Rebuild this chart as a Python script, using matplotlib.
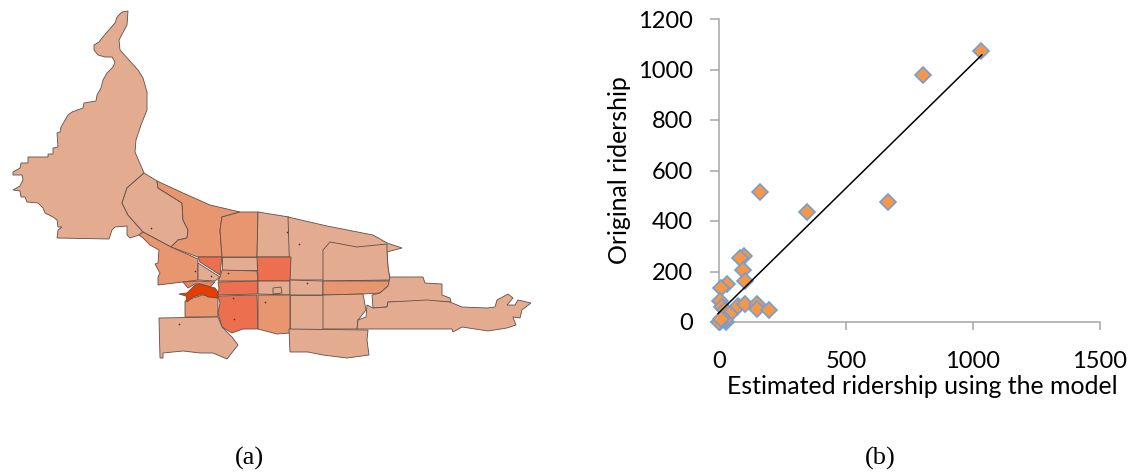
import matplotlib
matplotlib.use('Agg')
import matplotlib.pyplot as plt
from matplotlib.patches import Polygon

# scatter values
estimated = [160, 346, 97, 81, 93, 101, 33, 9, 4, 13, 22, 45, 75, 102, 151, 150, 197,
             29, 22, 3, 0, 9, 665, 803, 1031]
original = [513, 434, 263, 255, 207, 161, 152, 135, 83, 59, 46, 33, 62, 73, 70, 53, 48,
            0, 7, 0, 0, 13, 475, 978, 1073]
trend_x = [-4, 1035]
trend_y = [33, 1058]
xticks = [0, 500, 1000, 1500]
yticks = [0, 200, 400, 600, 800, 1000, 1200]

# district outlines for panel (a), in picture pixels
light = '#e3ab90'
mid = '#e8966f'
strong = '#ec7050'
deep = '#e83c00'

north_west = [(128, 11), (122, 12), (117, 17), (115, 23), (108, 31), (102, 38), (99, 42), (94, 45),
              (94, 50), (98, 55), (105, 57), (112, 57), (115, 62), (113, 67), (107, 73), (103, 80),
              (101, 88), (97, 95), (96, 101), (84, 103), (83, 108), (72, 112), (68, 115), (61, 127),
              (60, 132), (57, 133), (58, 147), (53, 148), (53, 154), (48, 154), (48, 157), (28, 157),
              (28, 163), (21, 163), (20, 168), (13, 172), (13, 175), (22, 175), (23, 180), (20, 186),
              (13, 190), (20, 191), (21, 197), (25, 197), (27, 202), (38, 203), (43, 208), (45, 213),
              (53, 217), (57, 220), (58, 227), (62, 227), (58, 230), (57, 238), (109, 239), (112, 230),
              (115, 227), (127, 226), (127, 235), (130, 238), (139, 235), (143, 232), (128, 215),
              (122, 203), (127, 188), (144, 173), (135, 152), (136, 140), (141, 125), (147, 110),
              (147, 92), (143, 78), (138, 70), (120, 50), (119, 40), (127, 25)]
river_side = [(144, 173), (157, 181), (158, 188), (182, 203), (183, 220), (188, 230), (187, 238),
              (178, 240), (171, 247), (143, 232), (128, 215), (122, 203), (127, 188)]
north_mid = [(157, 181), (183, 193), (210, 205), (240, 212), (222, 217), (220, 230), (222, 257),
             (198, 257), (171, 247), (178, 240), (187, 238), (188, 230), (183, 220), (182, 203), (158, 188)]
north_centre = [(240, 212), (258, 212), (257, 257), (222, 257), (220, 230), (222, 217)]
north_east_1 = [(258, 212), (289, 217), (290, 257), (257, 257)]
north_east_2 = [(288, 217), (327, 226), (373, 235), (387, 243), (402, 248), (387, 252), (388, 267),
                (390, 280), (290, 280)]
north_east_3 = [(330, 242), (357, 247), (387, 244), (387, 252), (388, 267), (390, 280), (323, 281), (323, 250)]
west_bank = [(139, 235), (143, 232), (171, 247), (198, 259), (198, 280), (183, 282), (158, 285), (158, 277),
             (160, 273), (155, 264), (158, 263), (159, 250), (150, 245), (143, 238)]
triangle_light = [(198, 263), (220, 277), (215, 281), (198, 280)]
triangle_red = [(198, 257), (222, 257), (220, 275), (200, 262)]
centre_top = [(222, 257), (257, 257), (257, 270), (222, 270)]
centre_mid = [(222, 270), (257, 271), (258, 281), (218, 281), (220, 277)]
east_red = [(257, 257), (291, 257), (290, 281), (258, 281)]
centre_red = [(218, 282), (258, 281), (258, 294), (218, 295), (219, 288)]
mid_light = [(258, 281), (290, 281), (290, 295), (258, 294)]
mid_inset = [(273, 288), (281, 287), (282, 293), (273, 294)]
band_light = [(290, 280), (323, 281), (323, 295), (290, 295)]
band_orange = [(323, 281), (390, 281), (388, 286), (380, 293), (363, 294), (323, 295)]
pocket = [(183, 282), (198, 281), (215, 282), (210, 287), (200, 284), (195, 284), (188, 288)]
hot_spot = [(179, 294), (187, 293), (195, 285), (200, 284), (215, 288), (218, 292), (218, 298),
            (208, 297), (203, 294), (193, 297), (187, 302), (186, 296)]
below_hot = [(185, 301), (193, 298), (203, 295), (218, 298), (218, 317), (185, 317)]
south_red = [(218, 296), (257, 295), (258, 329), (243, 329), (232, 333), (222, 327), (218, 313), (220, 303)]
south_orange = [(258, 295), (290, 295), (290, 333), (277, 334), (258, 329)]
south_west = [(159, 318), (218, 317), (222, 327), (232, 337), (238, 345), (227, 359), (213, 353),
              (200, 353), (183, 351), (163, 353), (163, 358), (160, 358)]
east_low_1 = [(290, 295), (323, 295), (323, 329), (290, 329)]
east_low_2 = [(323, 295), (363, 294), (366, 310), (358, 320), (357, 329), (323, 329)]
far_east_1 = [(390, 277), (423, 277), (425, 283), (442, 284), (442, 295), (450, 298), (451, 302),
              (388, 302), (387, 307), (373, 308), (372, 295), (380, 293), (388, 286)]
far_east_2 = [(388, 302), (427, 300), (450, 302), (462, 307), (487, 308), (495, 307), (497, 300),
              (508, 294), (513, 298), (507, 305), (515, 305), (518, 300), (531, 303), (522, 310),
              (520, 318), (513, 317), (516, 325), (507, 328), (488, 331), (462, 327), (453, 332),
              (452, 329), (357, 329), (358, 320), (366, 317), (367, 305), (373, 308), (387, 307)]
south_east = [(289, 329), (368, 330), (367, 340), (369, 355), (347, 358), (323, 355), (308, 352), (290, 352)]
speck_x = [151, 179, 211, 228, 287, 299, 234, 265, 233, 195, 307]
speck_y = [228, 324, 276, 273, 232, 244, 319, 302, 298, 271, 283]

regions = [(north_west, light), (river_side, light), (north_mid, mid), (north_centre, mid),
           (north_east_1, light), (north_east_2, light), (north_east_3, light), (west_bank, mid),
           (triangle_light, light), (triangle_red, strong), (centre_top, light), (centre_mid, mid),
           (east_red, strong), (centre_red, strong), (mid_light, light), (mid_inset, light), (band_light, light),
           (band_orange, mid), (pocket, '#e9855f'), (below_hot, mid), (hot_spot, deep),
           (south_red, strong), (south_orange, mid), (south_west, light), (east_low_1, light),
           (east_low_2, light), (far_east_1, light), (far_east_2, light), (south_east, light)]

fig = plt.figure(figsize=(11.29, 4.72), dpi=100)

map_ax = fig.add_axes([0, 0, 1, 1])
map_ax.set_xlim(0, 1129)
map_ax.set_ylim(472, 0)
map_ax.axis('off')
for pts, col in regions:
    map_ax.add_patch(Polygon(pts, closed=True, facecolor=col, edgecolor='#5f4f48', linewidth=0.6))
map_ax.scatter(speck_x, speck_y, s=1.5, color='#4a3a34', linewidths=0)

map_ax.text(249, 458, '(a)', ha='center', va='center', family='Liberation Serif', fontsize=19)
map_ax.text(880, 458, '(b)', ha='center', va='center', family='Liberation Serif', fontsize=19)

ax = fig.add_axes([719 / 1129, 1 - 322 / 472, 381 / 1129, 303 / 472])
ax.plot(estimated, original, linestyle='none', marker='D', markersize=7.8, markerfacecolor='#f79646',
        markeredgecolor='#6f9fd8', markeredgewidth=1.2, clip_on=False, zorder=3)
ax.plot(trend_x, trend_y, color='black', linewidth=1.1, clip_on=False, zorder=4)
ax.set_xlim(0, 1500)
ax.set_ylim(0, 1200)
ax.set_xticks(xticks)
ax.set_yticks(yticks)
ax.spines['top'].set_visible(False)
ax.spines['right'].set_visible(False)
for s in ['left', 'bottom']:
    ax.spines[s].set_color('#a6a6a6')
    ax.spines[s].set_linewidth(1.1)
ax.patch.set_alpha(0)
ax.tick_params(axis='y', length=6.5, width=1.1, color='#a6a6a6', labelsize=17, pad=12.5)
ax.tick_params(axis='x', length=6, width=1.1, color='#a6a6a6', labelsize=17, pad=15)
for lab in ax.get_xticklabels() + ax.get_yticklabels():
    lab.set_family('Lato')
ax.set_xlabel('Estimated ridership using the model', family='Lato', fontsize=17.9, labelpad=2, x=0.533)
ax.set_ylabel('Original ridership', family='Lato', fontsize=17.9, labelpad=4.7)

fig.savefig('out.png', dpi=100)
